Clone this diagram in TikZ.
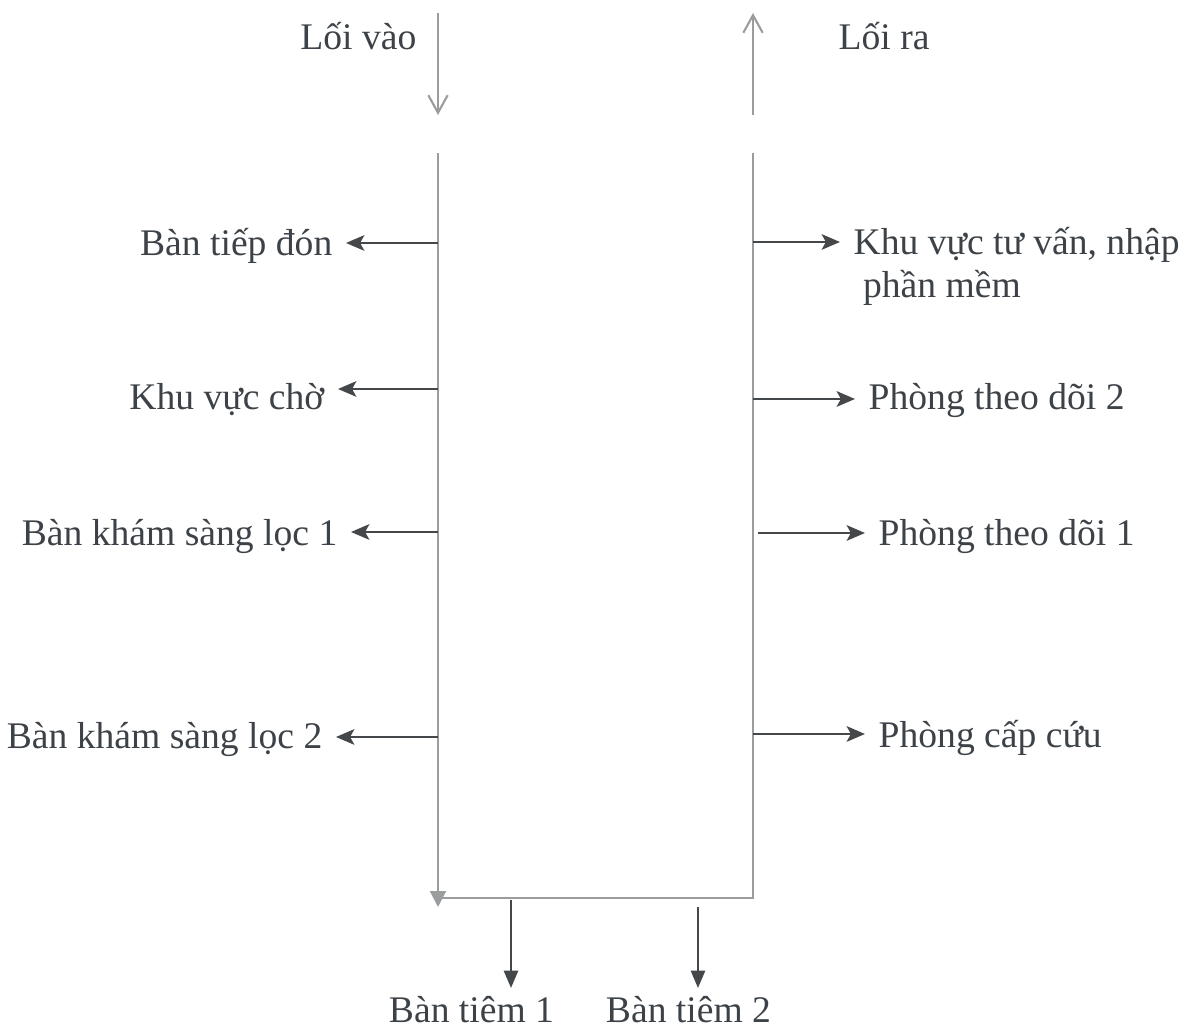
\documentclass[tikz,border=0pt]{standalone}
\usepackage{fontspec}
\setmainfont{Liberation Serif}
\usetikzlibrary{arrows.meta}
\definecolor{textgray}{HTML}{3C4247}
\definecolor{linegray}{HTML}{9A9C9E}
\definecolor{arrowgray}{HTML}{44484B}

\begin{document}
\begin{tikzpicture}

    \tikzset{labelstyle/.style={inner sep=0pt, text=textgray, font=\fontsize{10.7}{12.5}\selectfont}}
    \tikzset{flowline/.style={draw=linegray, line width=0.6pt}}
    \tikzset{sidearrow/.style={draw=arrowgray, line width=0.8pt, -{Stealth[length=5.2pt,width=4.4pt,inset=1.2pt]}, shorten >=1.3mm}}
    \tikzset{downarrow/.style={draw=arrowgray, line width=0.8pt, -{Triangle[length=5pt,width=4pt]}, shorten >=0.8mm}}

    \useasboundingbox (0,0) rectangle (11.85,-10.26);

    % loi vao, loi ra
    \coordinate (in0) at (4.38,-0.13);
    \coordinate (in1) at (4.38,-1.15);
    \coordinate (out0) at (7.53,-1.15);
    \coordinate (out1) at (7.53,-0.13);
    \node[labelstyle, anchor=base east] (loivao) at (4.17,-0.50) {Lối vào};
    \node[labelstyle, anchor=base west] (loira) at (8.38,-0.50) {Lối ra};

    % khung
    \coordinate (lt) at (4.38,-1.53);
    \coordinate (lb) at (4.38,-9.07);
    \coordinate (bl) at (4.38,-8.98);
    \coordinate (rb) at (7.53,-8.98);
    \coordinate (rt) at (7.53,-1.53);

    \coordinate (l1) at (4.38,-2.43);
    \coordinate (l2) at (4.38,-3.89);
    \coordinate (l3) at (4.38,-5.32);
    \coordinate (l4) at (4.38,-7.37);

    \coordinate (r1) at (7.53,-2.42);
    \coordinate (r2) at (7.53,-3.99);
    \coordinate (r3) at (7.58,-5.33);
    \coordinate (r4) at (7.53,-7.34);

    \coordinate (b1) at (5.11,-9.00);
    \coordinate (b2) at (6.98,-9.07);

    % ben trai
    \node[labelstyle, anchor=base east] (bantiep) at (3.33,-2.56) {Bàn tiếp đón};
    \node[labelstyle, anchor=base east] (khucho) at (3.25,-4.10) {Khu vực chờ};
    \node[labelstyle, anchor=base east] (sangloc1) at (3.38,-5.46) {Bàn khám sàng lọc 1};
    \node[labelstyle, anchor=base east] (sangloc2) at (3.23,-7.49) {Bàn khám sàng lọc 2};

    % ben phai
    \node[labelstyle, anchor=base west, align=left] (tuvan) at (8.53,-2.98) {Khu vực tư vấn, nhập\\\hspace*{0.25em}phần mềm};
    \node[labelstyle, anchor=base west] (theodoi2) at (8.68,-4.10) {Phòng theo dõi 2};
    \node[labelstyle, anchor=base west] (theodoi1) at (8.78,-5.46) {Phòng theo dõi 1};
    \node[labelstyle, anchor=base west] (capcuu) at (8.78,-7.48) {Phòng cấp cứu};

    % ban tiem
    \node[labelstyle, anchor=base] (tiem1) at (4.715,-10.23) {Bàn tiêm 1};
    \node[labelstyle, anchor=base] (tiem2) at (6.885,-10.23) {Bàn tiêm 2};

    \draw[flowline, -{Straight Barb[length=5pt,width=5.5pt]}] (in0) -- (in1);
    \draw[flowline, -{Straight Barb[length=5pt,width=5.5pt]}] (out0) -- (out1);
    \draw[flowline, -{Triangle[length=4.5pt,width=4.5pt]}] (lt) -- (lb);
    \draw[flowline] (bl) -- (rb) -- (rt);

    \draw[sidearrow] (l1) -- (l1 -| bantiep.east);
    \draw[sidearrow] (l2) -- (l2 -| khucho.east);
    \draw[sidearrow] (l3) -- (l3 -| sangloc1.east);
    \draw[sidearrow] (l4) -- (l4 -| sangloc2.east);

    \draw[sidearrow] (r1) -- (r1 -| tuvan.west);
    \draw[sidearrow] (r2) -- (r2 -| theodoi2.west);
    \draw[sidearrow] (r3) -- (r3 -| theodoi1.west);
    \draw[sidearrow] (r4) -- (r4 -| capcuu.west);

    \draw[downarrow] (b1) -- (b1 |- tiem1.north);
    \draw[downarrow] (b2) -- (b2 |- tiem2.north);

\end{tikzpicture}
\end{document}
